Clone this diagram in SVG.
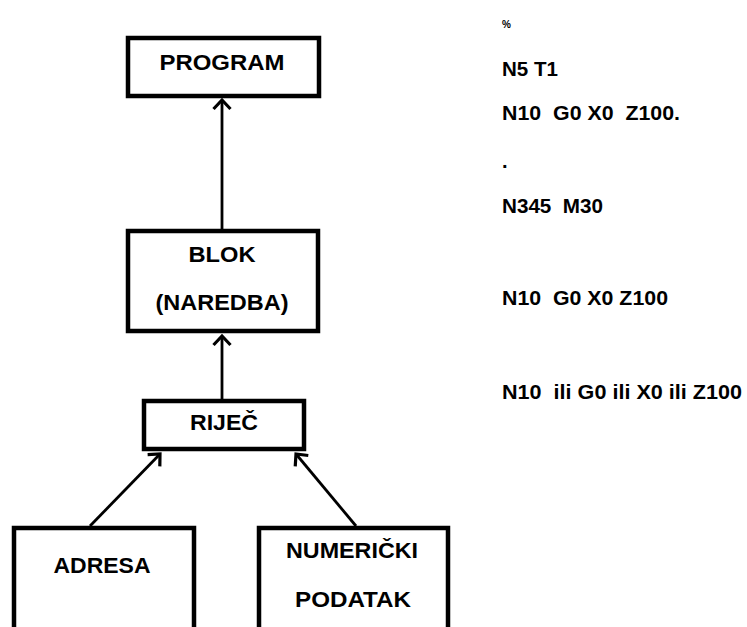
<svg xmlns="http://www.w3.org/2000/svg" width="747" height="627" viewBox="0 0 747 627">
<defs>
<style>
.box{fill:#fff;stroke:#000;stroke-width:4.5}
.lbl{font-family:"Liberation Sans",Arial,sans-serif;font-weight:bold;font-size:22px;fill:#000;text-anchor:middle}
.code{font-family:"Liberation Sans",Arial,sans-serif;font-weight:bold;font-size:20px;fill:#000;white-space:pre}
.conn{stroke:#000;stroke-width:2.8;fill:none}
</style>
<marker id="arr" markerUnits="userSpaceOnUse" markerWidth="24" markerHeight="24" refX="12" refY="12" orient="auto" viewBox="0 0 24 24">
<path d="M3,3.5 L12,12 L3,20.5" fill="none" stroke="#000" stroke-width="3.2"/>
</marker>
</defs>
<rect width="747" height="627" fill="#fff"/>
<g id="connectors">
<line class="conn" x1="222" y1="229" x2="222" y2="100" marker-end="url(#arr)"/>
<line class="conn" x1="222" y1="399" x2="222" y2="336" marker-end="url(#arr)"/>
<line class="conn" x1="90" y1="526" x2="160" y2="454" marker-end="url(#arr)"/>
<line class="conn" x1="356" y1="526" x2="296" y2="454" marker-end="url(#arr)"/>
</g>
<g id="program">
<rect class="box" x="128" y="38" width="191" height="58"/>
<text class="lbl" x="222" y="70" textLength="125" lengthAdjust="spacingAndGlyphs">PROGRAM</text>
</g>
<g id="blok">
<rect class="box" x="128" y="231" width="190" height="100"/>
<text class="lbl" x="222" y="262" textLength="67" lengthAdjust="spacingAndGlyphs">BLOK</text>
<text class="lbl" x="222" y="310" textLength="133" lengthAdjust="spacingAndGlyphs">(NAREDBA)</text>
</g>
<g id="rijec">
<rect class="box" x="144" y="401" width="160" height="48"/>
<text class="lbl" x="224" y="430" textLength="68" lengthAdjust="spacingAndGlyphs">RIJEČ</text>
</g>
<g id="adresa">
<rect class="box" x="14" y="528" width="180" height="120"/>
<text class="lbl" x="102" y="573" textLength="97" lengthAdjust="spacingAndGlyphs">ADRESA</text>
</g>
<g id="numericki">
<rect class="box" x="259" y="528" width="189" height="120"/>
<text class="lbl" x="352" y="558" textLength="132" lengthAdjust="spacingAndGlyphs">NUMERIČKI</text>
<text class="lbl" x="353" y="607" textLength="116" lengthAdjust="spacingAndGlyphs">PODATAK</text>
</g>
<g id="code">
<text class="code" x="502" y="28" style="font-size:10px">%</text>
<text class="code" x="502" y="76" textLength="56" lengthAdjust="spacingAndGlyphs">N5 T1</text>
<text class="code" x="502" y="120" textLength="178" lengthAdjust="spacingAndGlyphs">N10  G0 X0  Z100.</text>
<text class="code" x="502" y="168">.</text>
<text class="code" x="502" y="213" textLength="101" lengthAdjust="spacingAndGlyphs">N345  M30</text>
<text class="code" x="502" y="305" textLength="166" lengthAdjust="spacingAndGlyphs">N10  G0 X0 Z100</text>
<text class="code" x="502" y="399" textLength="240" lengthAdjust="spacingAndGlyphs">N10  ili G0 ili X0 ili Z100</text>
</g>
</svg>
